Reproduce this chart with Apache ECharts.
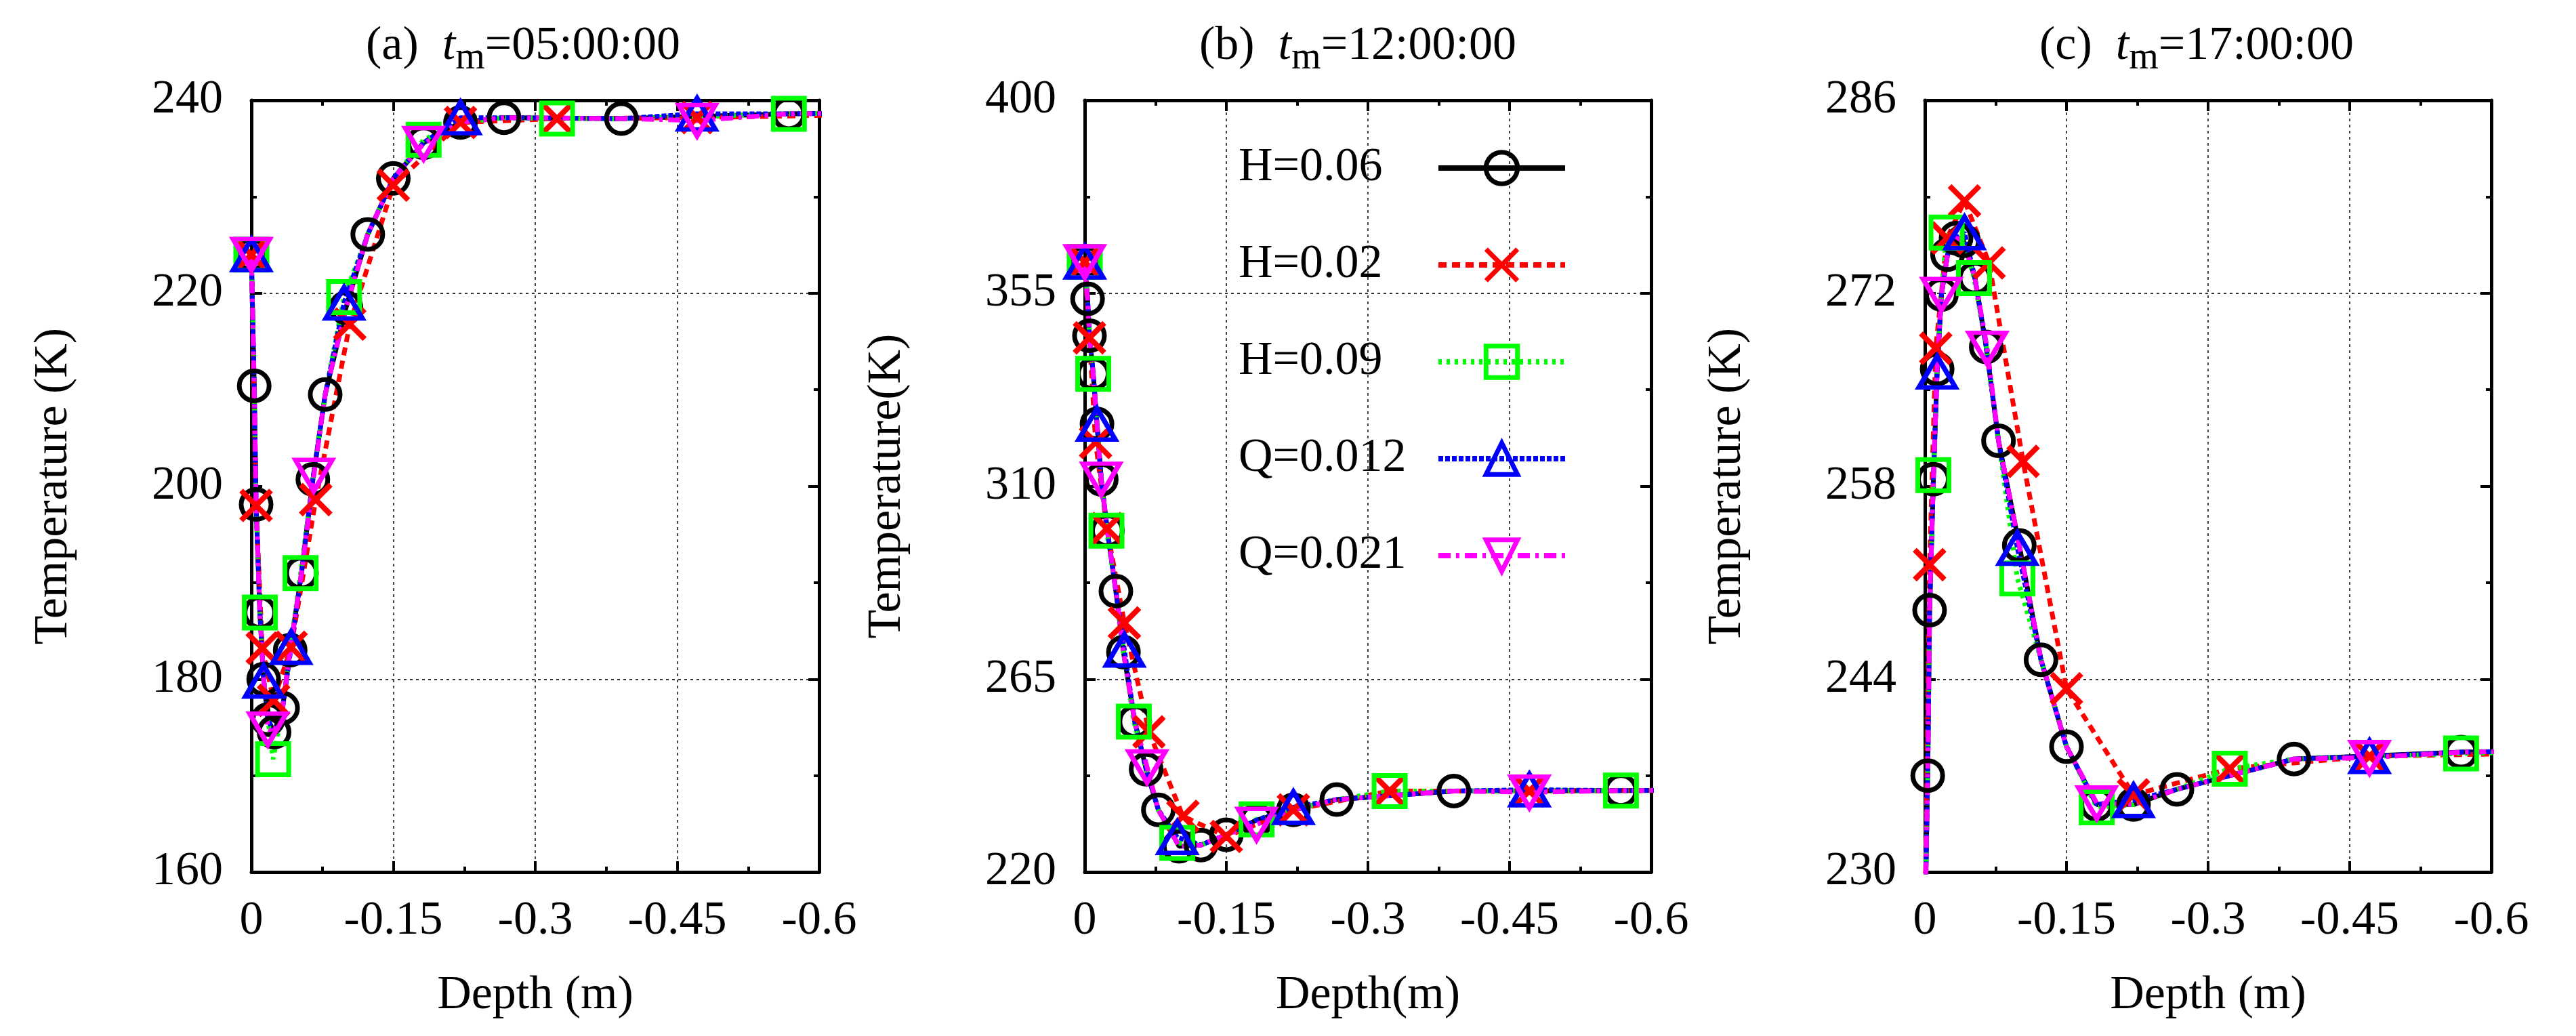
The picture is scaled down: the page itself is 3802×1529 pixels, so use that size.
<!DOCTYPE html>
<html>
<head>
<meta charset="utf-8">
<title>Temperature profiles</title>
<script src="https://cdn.jsdelivr.net/npm/echarts@6/dist/echarts.min.js"></script>
<style>
    html, body { margin: 0; padding: 0; background: #fff; }
    #chart { width: 3802px; height: 1529px; }
</style>
</head>
<body>
<div id="chart"></div>
<script>
// tick labels
const depthTicks = ['0', '-0.15', '-0.3', '-0.45', '-0.6'];
const tempTicksA = [160, 180, 200, 220, 240];
const tempTicksB = [220, 265, 310, 355, 400];
const tempTicksC = [230, 244, 258, 272, 286];

const panelTimes = ['05:00:00', '12:00:00', '17:00:00'];
const seriesNames = ['H=0.06', 'H=0.02', 'H=0.09', 'Q=0.012', 'Q=0.021'];

// H=0.06 (dense nodes, the common profile)
const depthH006 = [0, -0.003, -0.005, -0.009, -0.013, -0.0175, -0.024, -0.033, -0.041, -0.053, -0.065,
    -0.078, -0.1, -0.123, -0.15, -0.182, -0.221, -0.267, -0.391, -0.568, -0.8];
const tempA_H006 = [224, 210.4, 198.1, 186.9, 180.0, 175.8, 174.5, 177.0, 183.0, 191.0, 200.7,
    209.5, 218.5, 226.1, 231.9, 235.6, 237.7, 238.2, 238.1, 238.6, 238.8];
const tempB_H006 = [362.3, 353.7, 345.1, 336.2, 324.5, 311.6, 299.6, 285.5, 271.3, 255.1, 244.0,
    234.5, 226.0, 226.3, 228.7, 232.1, 234.5, 236.9, 238.9, 239.0, 239.2];
const tempC_H006 = [226.0, 237.0, 249.0, 258.5, 266.5, 271.9, 274.8, 276.0, 275.8, 273.1, 268.1,
    261.3, 253.7, 245.4, 239.1, 234.9, 234.9, 236.0, 238.2, 238.7, 238.9];

// H=0.02
const depthH002 = [0, -0.005, -0.0115, -0.0235, -0.042, -0.068, -0.104, -0.15, -0.221, -0.323, -0.471, -0.8];
const tempA_H002 = [224, 198.0, 183.2, 177.8, 183.3, 198.6, 216.8, 231.2, 237.7, 238.1, 238.2, 238.8];
const tempB_H002 = [362.3, 344.6, 320.2, 300.1, 278.1, 252.7, 233.0, 228.3, 234.5, 238.9, 238.9, 239.2];
const tempC_H002 = [226.0, 252.3, 268.0, 276.0, 278.7, 274.2, 259.8, 243.3, 235.6, 237.5, 238.4, 238.8];

// H=0.09
const depthH009 = [0, -0.009, -0.023, -0.052, -0.098, -0.182, -0.323, -0.568];
const tempA_H009 = [224, 186.9, 171.7, 191.0, 219.6, 235.9, 238.1, 238.6];
const tempB_H009 = [362.3, 336.2, 299.6, 255.1, 226.8, 232.3, 238.9, 239.0];
const tempC_H009 = [226.0, 258.8, 276.4, 273.1, 251.3, 234.7, 237.5, 238.6];

// Q=0.012
const depthQ0012 = [0, -0.013, -0.042, -0.098, -0.221, -0.471];
const tempA_Q0012 = [224, 179.8, 183.3, 219.0, 238.2, 238.6];
const tempB_Q0012 = [362.3, 324.5, 271.8, 228.1, 235.1, 239.2];
const tempC_Q0012 = [226.0, 266.3, 276.4, 253.5, 235.2, 238.4];

// Q=0.021
const depthQ0021 = [0, -0.0175, -0.066, -0.182, -0.471];
const tempA_Q0021 = [224, 174.8, 201.1, 235.5, 237.9];
const tempB_Q0021 = [362.3, 311.6, 244.5, 231.1, 238.6];
const tempC_Q0021 = [226.0, 271.9, 268.0, 235.0, 238.3];

const FONT = "'Liberation Serif', 'Times New Roman', serif";
const depths = [depthH006, depthH002, depthH009, depthQ0012, depthQ0021];

const seriesStyles = [
    { color: '#000000', symbol: 'circle', size: 44, border: 7, dash: 'solid', profile: false },
    { color: '#ff0000', symbol: 'path://M0,0L10,10M10,0L0,10', size: 44, border: 8, dash: [12, 8], profile: false },
    { color: '#00ff00', symbol: 'rect', size: 46, border: 7, dash: [5, 7], profile: true },
    { color: '#0000ff', symbol: 'triangle', size: [54, 46], border: 7, dash: [7, 3], profile: true },
    { color: '#ff00ff', symbol: 'triangle', size: [54, 46], border: 7, dash: [18, 8, 5, 8], profile: true, rotate: 180 }
];

const panels = [
    { tag: 'a', left: 371, width: 838, yTicks: tempTicksA, yName: 'Temperature (K)', xName: 'Depth (m)',
        temps: [tempA_H006, tempA_H002, tempA_H009, tempA_Q0012, tempA_Q0021] },
    { tag: 'b', left: 1601, width: 836, yTicks: tempTicksB, yName: 'Temperature(K)', xName: 'Depth(m)',
        temps: [tempB_H006, tempB_H002, tempB_H009, tempB_Q0012, tempB_Q0021] },
    { tag: 'c', left: 2841, width: 836, yTicks: tempTicksC, yName: 'Temperature (K)', xName: 'Depth (m)',
        temps: [tempC_H006, tempC_H002, tempC_H009, tempC_Q0012, tempC_Q0021] }
];

function pairs(xs, ys) {
    return xs.map((x, i) => [x, ys[i]]);
}

// markers of one series plus the profile nodes between them (profile nodes drawn without symbol)
function withProfile(own, profile) {
    const extra = profile.filter(p => !own.some(m => Math.abs(p[0] - m[0]) < 0.12 * Math.abs(m[0]) + 0.001));
    const items = own.map(v => ({ value: v }))
        .concat(extra.map(v => ({ value: v, symbol: 'none' })));
    items.sort((a, b) => b.value[0] - a.value[0]);
    return items;
}

const tickText = { fontFamily: FONT, fontSize: 70, color: '#000' };
const border = { show: true, onZero: false, lineStyle: { color: '#000', width: 5 } };
const tick = { show: true, inside: true, length: 16, lineStyle: { color: '#000', width: 4 } };
const minor = { show: true, splitNumber: 2, length: 8, lineStyle: { color: '#000', width: 4 } };
const dotted = { color: '#444', width: 2, type: [4, 5] };

const titleRich = {
    n: { fontFamily: FONT, fontSize: 70, lineHeight: 90, color: '#000', fontWeight: 'normal' },
    i: { fontFamily: FONT, fontSize: 70, lineHeight: 90, color: '#000', fontWeight: 'normal', fontStyle: 'italic' },
    s: { fontFamily: FONT, fontSize: 56, lineHeight: 56, color: '#000', fontWeight: 'normal', verticalAlign: 'bottom' }
};

const grids = [], xAxes = [], yAxes = [], titles = [], series = [];

panels.forEach(function (p, pi) {
    grids.push({ left: p.left, top: 148, width: p.width, height: 1139, containLabel: false, outerBoundsMode: 'none' });

    titles.push({
        left: p.left + 169, top: 24, padding: 0,
        text: '{n|(' + p.tag + ')  }{i|t}{s|m}{n|=' + panelTimes[pi] + '}',
        textStyle: { rich: titleRich }
    });

    // data axes (hidden)
    xAxes.push({ gridIndex: pi, type: 'value', min: -0.6, max: 0, inverse: true, show: false });
    yAxes.push({ gridIndex: pi, type: 'value', min: p.yTicks[0], max: p.yTicks[p.yTicks.length - 1], show: false });

    // tick axes, ticks counted by index into the label arrays
    xAxes.push({
        gridIndex: pi, type: 'value', position: 'bottom', min: 0, max: depthTicks.length - 1, interval: 1,
        axisLine: border, axisTick: tick, minorTick: minor,
        axisLabel: Object.assign({ margin: 38, showMinLabel: true, showMaxLabel: true,
            formatter: v => depthTicks[v] }, tickText),
        splitLine: { show: true, lineStyle: dotted },
        name: p.xName, nameLocation: 'middle', nameGap: 148, nameTextStyle: tickText
    });
    xAxes.push({
        gridIndex: pi, type: 'value', position: 'top', min: 0, max: depthTicks.length - 1, interval: 1,
        axisLine: border, axisTick: tick, minorTick: minor,
        axisLabel: { show: false }, splitLine: { show: false }
    });
    yAxes.push({
        gridIndex: pi, type: 'value', position: 'left', min: 0, max: p.yTicks.length - 1, interval: 1,
        axisLine: border, axisTick: tick, minorTick: minor,
        axisLabel: Object.assign({ margin: 42, showMinLabel: true, showMaxLabel: true,
            formatter: v => String(p.yTicks[v]) }, tickText),
        splitLine: { show: true, lineStyle: Object.assign({}, dotted, { color: ['rgba(0,0,0,0)', '#333'] }) },
        name: p.yName, nameLocation: 'middle', nameGap: 256, nameTextStyle: tickText
    });
    yAxes.push({
        gridIndex: pi, type: 'value', position: 'right', min: 0, max: p.yTicks.length - 1, interval: 1,
        axisLine: border, axisTick: tick, minorTick: minor,
        axisLabel: { show: false }, splitLine: { show: false }
    });

    const profile = pairs(depthH006, p.temps[0]);
    seriesStyles.forEach(function (st, si) {
        const own = pairs(depths[si], p.temps[si]);
        series.push({
            name: seriesNames[si],
            type: 'line',
            xAxisIndex: pi * 3,
            yAxisIndex: pi * 3,
            data: st.profile ? withProfile(own, profile) : own.map(v => ({ value: v })),
            symbol: st.symbol,
            symbolSize: st.size,
            symbolRotate: st.rotate || 0,
            showAllSymbol: true,
            lineStyle: { color: st.color, width: 7, type: st.dash },
            itemStyle: { color: 'rgba(0,0,0,0)', borderColor: st.color, borderWidth: st.border },
            emphasis: { disabled: true },
            clip: true
        });
    });
});

const chart = echarts.init(document.getElementById('chart'));
chart.setOption({
    animation: false,
    backgroundColor: '#fff',
    title: titles,
    grid: grids,
    xAxis: xAxes,
    yAxis: yAxes,
    legend: {
        data: seriesNames,
        orient: 'vertical',
        left: 1828,
        top: 213,
        padding: 0,
        itemGap: 73,
        itemWidth: 187,
        itemHeight: 58,
        align: 'right',
        selectedMode: false,
        formatter: '{a|{name}}',
        textStyle: {
            rich: { a: { width: 290, align: 'left', fontFamily: FONT, fontSize: 70, lineHeight: 70, color: '#000' } }
        },
        itemStyle: { borderWidth: 7 },
        lineStyle: { width: 8 }
    },
    series: series
});
</script>
</body>
</html>
